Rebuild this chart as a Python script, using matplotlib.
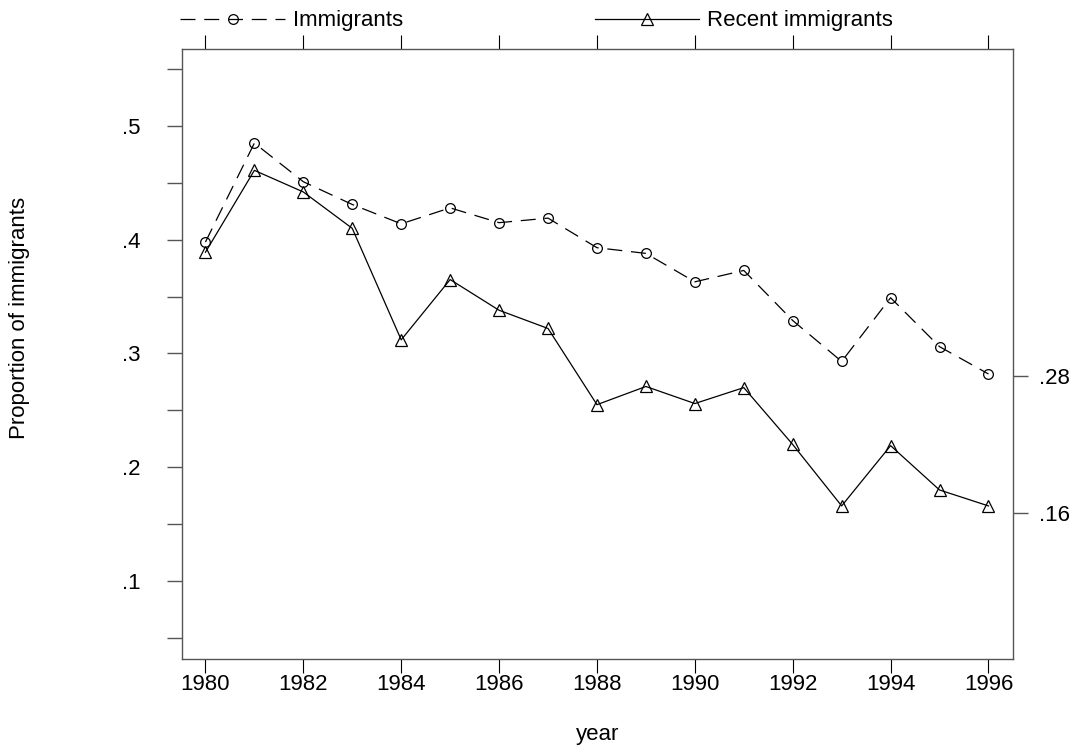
import numpy as np
import matplotlib.pyplot as plt

plt.rcParams['font.family'] = ['Liberation Sans', 'DejaVu Sans']
plt.rcParams['font.size'] = 16

# Share of immigrants by year
years = np.arange(1980, 1997)
immigrants = [0.398, 0.485, 0.451, 0.431, 0.414, 0.428, 0.415, 0.419, 0.393,
              0.388, 0.363, 0.373, 0.329, 0.293, 0.349, 0.306, 0.282]
recent = [0.389, 0.461, 0.442, 0.410, 0.312, 0.365, 0.338, 0.322, 0.255,
          0.271, 0.256, 0.270, 0.220, 0.166, 0.219, 0.180, 0.166]

# Axis ticks
x_ticks = np.arange(1980, 1997, 2)
y_major = [0.1, 0.2, 0.3, 0.4, 0.5]
y_minor = [0.05, 0.15, 0.25, 0.35, 0.45, 0.55]
right_ticks = [0.28, 0.16]

def stata_label(v):
    return ('%g' % v).lstrip('0')

axis_grey = '#555555'

fig = plt.figure(figsize=(10.76, 7.53), dpi=100)
ax = fig.add_axes([0.1691, 0.1248, 0.7723, 0.8097])

ax.plot(years, immigrants, color='black', lw=0.9, linestyle=(0, (12, 7)),
        marker='o', markersize=7, mfc='none', mec='black', mew=0.9,
        label='Immigrants')
ax.plot(years, recent, color='black', lw=0.9, linestyle='-',
        marker='^', markersize=9, mfc='none', mec='black', mew=0.9,
        label='Recent immigrants')

ax.set_xlim(1979.52, 1996.5)
ax.set_ylim(0.0314, 0.5674)

ax.set_xticks(x_ticks)
ax.set_xticklabels([str(x) for x in x_ticks])
ax.tick_params(axis='x', which='major', direction='out', length=10, width=0.8,
               color='black', top=True, labeltop=False, pad=1)

ax.set_yticks(y_major)
ax.set_yticklabels([stata_label(v) for v in y_major])
ax.set_yticks(y_minor, minor=True)
ax.tick_params(axis='y', which='both', direction='out', length=11, width=1.0,
               color=axis_grey, pad=19)

for s in ax.spines.values():
    s.set_color(axis_grey)
    s.set_linewidth(1.0)

# Right axis shows the final values of both series
ax2 = ax.twinx()
ax2.set_ylim(ax.get_ylim())
ax2.set_yticks(right_ticks)
ax2.set_yticklabels([stata_label(v) for v in right_ticks])
ax2.tick_params(axis='y', direction='out', length=11, width=1.0,
                color=axis_grey, pad=8)
for s in ax2.spines.values():
    s.set_visible(False)

ax.set_xlabel('year', labelpad=21)
ax.set_ylabel('Proportion of immigrants', va='center')
ax.yaxis.set_label_coords(-0.195, 0.559)

# Legend entries above the plot box
h1, h2 = ax.get_lines()
leg1 = ax.legend([h1], ['Immigrants'], loc='center left',
                 bbox_to_anchor=(-0.002, 1.0465), frameon=False,
                 borderpad=0, borderaxespad=0, handlelength=4.7,
                 handletextpad=0.36)
ax.add_artist(leg1)
ax.legend([h2], ['Recent immigrants'], loc='center left',
          bbox_to_anchor=(0.497, 1.0465), frameon=False,
          borderpad=0, borderaxespad=0, handlelength=4.7,
          handletextpad=0.36)

fig.savefig('out.png', dpi=100)
